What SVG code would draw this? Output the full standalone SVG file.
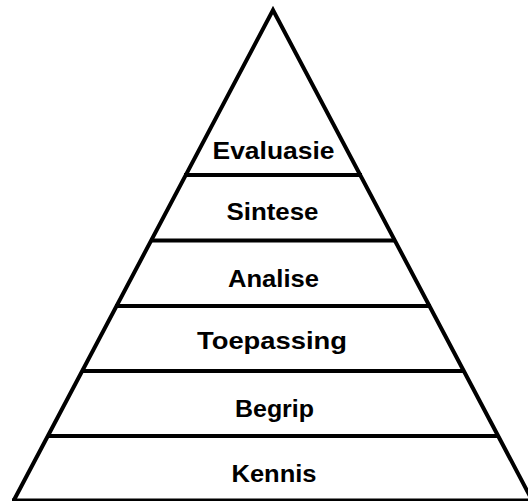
<svg xmlns="http://www.w3.org/2000/svg" width="528" height="501" viewBox="0 0 528 501">
<style>
.edge{fill:none;stroke:#000;stroke-width:4;stroke-linejoin:miter}
.sep{stroke:#000;stroke-width:4}
.lbl{font-family:"Liberation Sans",Arial,sans-serif;font-weight:bold;font-size:24.5px;fill:#000;text-anchor:middle}
</style>
<rect width="528" height="501" fill="#fff"/>
<g id="connectors">
<line class="sep" x1="184" y1="175" x2="362" y2="175"/>
<line class="sep" x1="150" y1="240.5" x2="396" y2="240.5"/>
<line class="sep" x1="115" y1="306" x2="431" y2="306"/>
<line class="sep" x1="81" y1="371" x2="465" y2="371"/>
<line class="sep" x1="47" y1="436" x2="499" y2="436"/>
<line class="sep" x1="12" y1="500" x2="534" y2="500" style="stroke-width:3"/>
<polyline class="edge" points="14,500 273,10 532,500"/>
</g>
<g id="evaluasie"><text class="lbl" x="273.5" y="158.5" textLength="122" lengthAdjust="spacingAndGlyphs">Evaluasie</text></g>
<g id="sintese"><text class="lbl" x="272.5" y="220" textLength="92" lengthAdjust="spacingAndGlyphs">Sintese</text></g>
<g id="analise"><text class="lbl" x="273.5" y="286.5" textLength="91" lengthAdjust="spacingAndGlyphs">Analise</text></g>
<g id="toepassing"><text class="lbl" x="272" y="348.5" textLength="150" lengthAdjust="spacingAndGlyphs">Toepassing</text></g>
<g id="begrip"><text class="lbl" x="274.5" y="416.5" textLength="79" lengthAdjust="spacingAndGlyphs">Begrip</text></g>
<g id="kennis"><text class="lbl" x="274" y="481.5" textLength="85" lengthAdjust="spacingAndGlyphs">Kennis</text></g>
</svg>
